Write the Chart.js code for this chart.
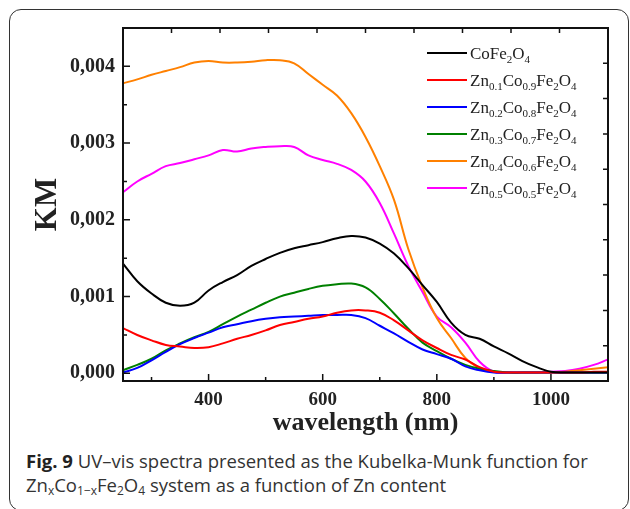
<!DOCTYPE html>
<html>
<head>
<meta charset="utf-8">
<title>UV-vis Kubelka-Munk</title>
<script src="https://cdn.jsdelivr.net/npm/chart.js@4.4.1/dist/chart.umd.min.js"></script>
<style>

    html, body {
        margin: 0;
        padding: 0;
        background: #ffffff;
    }

    .figure {
        position: relative;
        width: 630px;
        height: 509px;
        overflow: hidden;
    }

    .frame-box {
        position: absolute;
        left: 9px;
        top: 9px;
        width: 620px;
        height: 502px;
        border: 1.5px solid #333333;
        border-radius: 12px;
        box-sizing: border-box;
    }

    #kmChart {
        position: absolute;
        left: 0;
        top: 0;
    }

    .caption {
        position: absolute;
        left: 26px;
        top: 449px;
        width: 600px;
        font-family: "Open Sans", sans-serif;
        font-size: 18.5px;
        line-height: 24px;
        color: #333333;
        white-space: nowrap;
    }

    .caption b {
        color: #222222;
    }

    .caption sub {
        font-size: 12px;
        line-height: 0;
        vertical-align: -3px;
    }

</style>
</head>
<body>

<div class="figure">
    <div class="frame-box"></div>
    <canvas id="kmChart" width="630" height="440"></canvas>
    <div class="caption">
        <b>Fig. 9</b> UV–vis spectra presented as the Kubelka-Munk function for<br>
        Zn<sub>x</sub>Co<sub>1−x</sub>Fe<sub>2</sub>O<sub>4</sub> system as a function of Zn content
    </div>
</div>

<script>

const wavelengths = [
    250, 275, 300, 325, 350, 375, 400, 425, 450, 475,
    500, 525, 550, 575, 600, 625, 650, 675, 700, 725,
    750, 775, 800, 825, 850, 875, 900, 925, 950, 975,
    1000, 1025, 1050, 1075, 1100
];

const coFe2O4 = [
    0.00143, 0.00120, 0.00104, 0.00092, 0.00088, 0.00092, 0.00108, 0.00119, 0.00128, 0.00140,
    0.00149, 0.00157, 0.00163, 0.00167, 0.00171, 0.00176, 0.00179, 0.00177, 0.00169, 0.00156,
    0.00137, 0.00115, 0.00093, 0.00066, 0.00050, 0.00045, 0.00035, 0.00026, 0.00016, 0.00008,
    0.00002, 0.00001, 0.00001, 0.00001, 0.00001
];

const zn01 = [
    0.00059, 0.00050, 0.00043, 0.00037, 0.00035, 0.00033, 0.00034, 0.00039, 0.00045, 0.00050,
    0.00056, 0.00063, 0.00067, 0.00071, 0.00074, 0.00079, 0.00082, 0.00082, 0.00079, 0.00069,
    0.00056, 0.00043, 0.00033, 0.00024, 0.00018, 0.00008, 0.00002, 0.00001, 0.00001, 0.00001,
    0.00001, 0.00001, 0.00001, 0.00002, 0.00002
];

const zn02 = [
    0.00001, 0.00007, 0.00017, 0.00028, 0.00038, 0.00046, 0.00053, 0.00060, 0.00064, 0.00068,
    0.00071, 0.00073, 0.00074, 0.00075, 0.00076, 0.00076, 0.00076, 0.00072, 0.00062, 0.00052,
    0.00041, 0.00031, 0.00025, 0.00019, 0.00009, 0.00004, 0.00001, 0.00001, 0.00001, 0.00001,
    0.00001, 0.00001, 0.00001, 0.00001, 0.00001
];

const zn03 = [
    0.00004, 0.00011, 0.00019, 0.00030, 0.00039, 0.00047, 0.00054, 0.00064, 0.00074, 0.00083,
    0.00092, 0.00100, 0.00105, 0.00110, 0.00114, 0.00116, 0.00117, 0.00112, 0.00097, 0.00078,
    0.00058, 0.00040, 0.00029, 0.00019, 0.00011, 0.00006, 0.00003, 0.00001, 0.00001, 0.00001,
    0.00001, 0.00001, 0.00001, 0.00001, 0.00001
];

const zn04 = [
    0.00378, 0.00383, 0.00389, 0.00394, 0.00399, 0.00405, 0.00407, 0.00405, 0.00405, 0.00406,
    0.00408, 0.00408, 0.00404, 0.00390, 0.00376, 0.00362, 0.00339, 0.00308, 0.00270, 0.00226,
    0.00162, 0.00112, 0.00072, 0.00046, 0.00020, 0.00007, 0.00002, 0.00001, 0.00001, 0.00001,
    0.00001, 0.00002, 0.00004, 0.00006, 0.00008
];

const zn05 = [
    0.00236, 0.00250, 0.00260, 0.00270, 0.00274, 0.00279, 0.00284, 0.00291, 0.00289, 0.00293,
    0.00295, 0.00296, 0.00295, 0.00284, 0.00278, 0.00273, 0.00265, 0.00250, 0.00222, 0.00182,
    0.00140, 0.00106, 0.00074, 0.00060, 0.00040, 0.00015, 0.00002, 0.00001, 0.00001, 0.00001,
    0.00002, 0.00003, 0.00006, 0.00011, 0.00018
];

const seriesNames = [
    "CoFe2O4",
    "Zn0.1Co0.9Fe2O4",
    "Zn0.2Co0.8Fe2O4",
    "Zn0.3Co0.7Fe2O4",
    "Zn0.4Co0.6Fe2O4",
    "Zn0.5Co0.5Fe2O4"
];

const seriesValues = [coFe2O4, zn01, zn02, zn03, zn04, zn05];

const seriesColors = ["#000000", "#ff0000", "#0000ff", "#008000", "#ff8000", "#ff00ff"];

const xTicks = [400, 600, 800, 1000];
const xMinorTicks = [300, 500, 700, 900];

const yTicks = [0, 0.001, 0.002, 0.003, 0.004];
const yTickLabels = ["0,000", "0,001", "0,002", "0,003", "0,004"];
const yMinorTicks = [0.0005, 0.0015, 0.0025, 0.0035];

// top and right edges carry their own evenly spaced ticks
const mirrorDivisions = 10;

const serif = "'Liberation Serif', 'Times New Roman', serif";

// splits a formula into element symbols and their subscript counts
function formulaParts(text) {

    const parts = [];

    text.replace(/([A-Z][a-z]?)([\d.]*)/g, (m, el, count) => {
        parts.push({ el, count });
        return m;
    });

    return parts;

}

const boxTicks = {

    id: "boxTicks",

    afterDatasetsDraw(chart) {

        const { ctx, chartArea, scales } = chart;
        const { left, right, top, bottom } = chartArea;

        ctx.save();

        ctx.strokeStyle = "#111111";
        ctx.lineWidth = 1.5;

        ctx.beginPath();

        xTicks.forEach(v => {
            const px = scales.x.getPixelForValue(v);
            ctx.moveTo(px, bottom);
            ctx.lineTo(px, bottom - 7);
        });

        xMinorTicks.forEach(v => {
            const px = scales.x.getPixelForValue(v);
            ctx.moveTo(px, bottom);
            ctx.lineTo(px, bottom - 4);
        });

        yTicks.forEach(v => {
            const py = scales.y.getPixelForValue(v);
            ctx.moveTo(left, py);
            ctx.lineTo(left + 7, py);
        });

        yMinorTicks.forEach(v => {
            const py = scales.y.getPixelForValue(v);
            ctx.moveTo(left, py);
            ctx.lineTo(left + 4, py);
        });

        for (let i = 1; i < mirrorDivisions; i++) {

            const px = left + (right - left) * i / mirrorDivisions;
            ctx.moveTo(px, top);
            ctx.lineTo(px, top + 5);

            const py = bottom - (bottom - top) * i / mirrorDivisions;
            ctx.moveTo(right, py);
            ctx.lineTo(right - 5, py);

        }

        ctx.stroke();

        ctx.lineWidth = 2;
        ctx.strokeRect(left, top, right - left, bottom - top);

        ctx.restore();

    },

    afterDraw(chart) {

        const ctx = chart.ctx;

        ctx.save();

        ctx.textBaseline = "alphabetic";
        ctx.fillStyle = "#222222";

        chart.data.datasets.forEach((ds, i) => {

            const rowY = 53 + i * 27;

            ctx.strokeStyle = ds.borderColor;
            ctx.lineWidth = 2;
            ctx.beginPath();
            ctx.moveTo(427, rowY);
            ctx.lineTo(467, rowY);
            ctx.stroke();

            let x = 470;
            const base = rowY + 6;

            formulaParts(ds.label).forEach(part => {

                ctx.font = "17px " + serif;
                ctx.fillText(part.el, x, base);
                x += ctx.measureText(part.el).width;

                if (part.count) {
                    ctx.font = "11px " + serif;
                    ctx.fillText(part.count, x, base + 4);
                    x += ctx.measureText(part.count).width;
                }

            });

        });

        ctx.restore();

    }

};

const ctx = document.getElementById("kmChart");

new Chart(ctx, {

    type: "line",

    data: {

        datasets: seriesNames.map((name, i) => ({

            label: name,

            data: wavelengths.map((w, j) => ({ x: w, y: seriesValues[i][j] })),

            borderColor: seriesColors[i],

            borderWidth: 2,

            pointRadius: 0,

            tension: 0.4,

            fill: false

        }))

    },

    options: {

        responsive: false,

        animation: false,

        devicePixelRatio: 1,

        layout: {

            padding: { left: 0, top: 28, right: 22, bottom: 0 }

        },

        plugins: {

            legend: { display: false },

            tooltip: { enabled: false }

        },

        scales: {

            x: {

                type: "linear",

                min: 250,

                max: 1100,

                afterBuildTicks: scale => {
                    scale.ticks = xTicks.map(v => ({ value: v }));
                },

                afterFit: scale => {
                    scale.height = 59;
                },

                grid: { display: false, drawTicks: false },

                border: { display: false },

                ticks: {

                    padding: 8,

                    color: "#222222",

                    font: { family: serif, size: 19, weight: "bold" },

                    callback: value => String(value)

                },

                title: {

                    display: true,

                    text: "wavelength (nm)",

                    color: "#222222",

                    padding: { top: 0, bottom: 1 },

                    font: { family: serif, size: 26, weight: "bold" }

                }

            },

            y: {

                type: "linear",

                min: -0.0001,

                max: 0.0045,

                afterBuildTicks: scale => {
                    scale.ticks = yTicks.map(v => ({ value: v }));
                },

                afterFit: scale => {
                    scale.width = 123;
                },

                grid: { display: false, drawTicks: false },

                border: { display: false },

                ticks: {

                    padding: 8,

                    color: "#222222",

                    font: { family: serif, size: 20, weight: "bold" },

                    callback: value => yTickLabels[yTicks.indexOf(value)]

                },

                title: {

                    display: true,

                    text: "KM",

                    color: "#222222",

                    padding: { top: 29, bottom: 0 },

                    font: { family: serif, size: 31, weight: "bold" }

                }

            }

        }

    },

    plugins: [boxTicks]

});

</script>

</body>
</html>
